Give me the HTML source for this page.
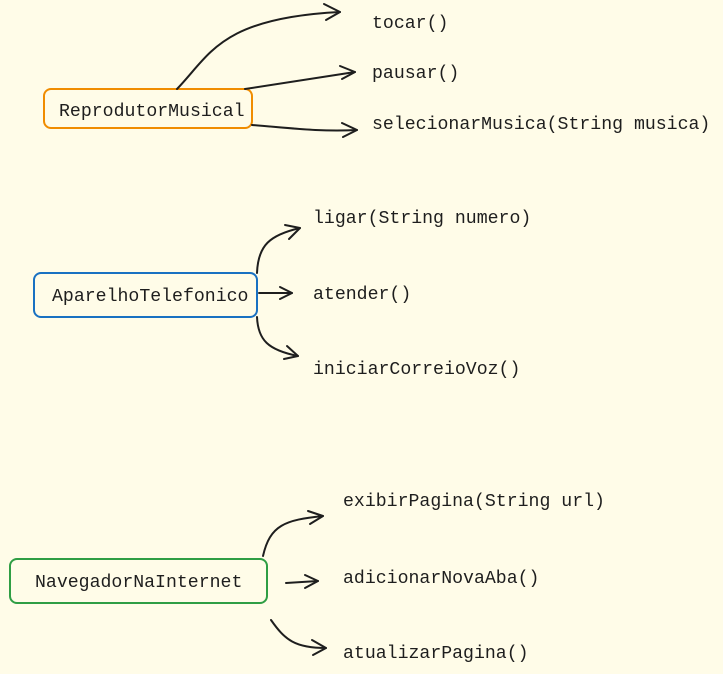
<!DOCTYPE html>
<html><head><meta charset="utf-8"><style>
html,body{margin:0;padding:0;background:#fffce8;}
svg{display:block}
text{font-family:"Liberation Mono",monospace;font-size:18.2px;fill:#1e1e1e}
</style></head><body>
<svg width="723" height="674" viewBox="0 0 723 674" xmlns="http://www.w3.org/2000/svg">
<rect width="723" height="674" fill="#fffce8"/>
<g fill="none" stroke-width="2" stroke-linecap="round" stroke-linejoin="round">
<rect x="44" y="89" width="208" height="39" rx="7" stroke="#f08c00"/>
<rect x="34" y="273" width="223" height="44" rx="7" stroke="#1971c2"/>
<rect x="10" y="559" width="257" height="44" rx="7" stroke="#2f9e44"/>
</g>
<g fill="none" stroke="#1e1e1e" stroke-width="2" stroke-linecap="round" stroke-linejoin="round">
<path d="M177 89 C210 55 220 18 340 12"/><path d="M324 4 L340 12 L326 20"/>
<path d="M245 89 L355 72"/><path d="M340 66 L355 72 L342 79"/>
<path d="M252 125 C290 128 320 132 357 130"/><path d="M342 123 L357 130 L343 137"/>
<path d="M257 273 C258 245 270 235 300 228"/><path d="M285 225 L300 228 L289 239"/>
<path d="M259 293 L292 293"/><path d="M280 287 L292 293 L280 299"/>
<path d="M257 317 C258 340 268 350 298 356"/><path d="M287 346 L298 356 L284 359"/>
<path d="M263 556 C270 525 285 520 323 516"/><path d="M308 511 L323 516 L310 524"/>
<path d="M286 583 L318 581"/><path d="M305 575 L318 581 L305 588"/>
<path d="M271 620 C285 640 295 648 326 648"/><path d="M312 640 L326 648 L313 655"/>
</g>
<text x="59" y="116">ReprodutorMusical</text>
<text x="52" y="301">AparelhoTelefonico</text>
<text x="35" y="587">NavegadorNaInternet</text>
<text x="372" y="28">tocar()</text>
<text x="372" y="78">pausar()</text>
<text x="372" y="129">selecionarMusica(String musica)</text>
<text x="313" y="223">ligar(String numero)</text>
<text x="313" y="299">atender()</text>
<text x="313" y="374">iniciarCorreioVoz()</text>
<text x="343" y="506">exibirPagina(String url)</text>
<text x="343" y="583">adicionarNovaAba()</text>
<text x="343" y="658">atualizarPagina()</text>
</svg>
</body></html>
